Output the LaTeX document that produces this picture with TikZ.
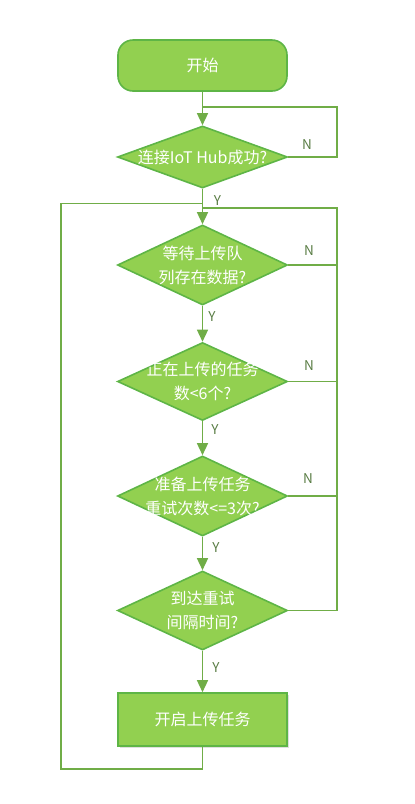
\documentclass[tikz,border=0pt]{standalone}
\usepackage{fontspec}
\setmainfont{Noto Sans CJK SC}
\usetikzlibrary{shapes.geometric,arrows.meta,shadows}
\definecolor{boxfill}{HTML}{92D050}
\definecolor{boxline}{HTML}{5EB546}
\definecolor{conn}{HTML}{70AD47}
\definecolor{lbl}{HTML}{5A7D45}
\begin{document}
\begin{tikzpicture}[x=1pt,y=-1pt,
  boxtext/.style={text=white,font=\fontsize{16}{24}\selectfont,align=center},
  startbox/.style={draw=boxline,line width=1.6pt,fill=boxfill,rounded corners=15pt,minimum width=169pt,minimum height=51pt,inner sep=0pt,boxtext},
  actbox/.style={draw=boxline,line width=1.6pt,fill=boxfill,minimum width=169pt,minimum height=53pt,inner sep=0pt,boxtext,drop shadow={opacity=0.25,shadow xshift=1.5pt,shadow yshift=-1.5pt}},
  decbox/.style={diamond,draw=boxline,line width=1.6pt,fill=boxfill,minimum width=170pt,inner sep=0pt},
  conline/.style={draw=conn,line width=1.4pt},
  arr/.style={conline,-{Triangle[width=11pt,length=12pt]}},
  yn/.style={text=lbl,font=\fontsize{13.5}{15}\selectfont,inner sep=0pt}
]
\useasboundingbox (0,0) rectangle (415,804);
% nodes
\node[startbox] (start) at (202.5,65.5) {开始};
\node[decbox,minimum height=62pt] (d1) at (202.5,157) {};
\node[boxtext] (t1) at (202.5,157) {连接IoT Hub成功?};
\node[decbox,minimum height=80pt] (d2) at (202.5,265) {};
\node[boxtext] (t2) at (202.5,265) {等待上传队\\列存在数据?};
\node[decbox,minimum height=78pt] (d3) at (202.5,381.5) {};
\node[boxtext] (t3) at (202.5,381.5) {正在上传的任务\\数<6个?};
\node[decbox,minimum height=80pt] (d4) at (202.5,496) {};
\node[boxtext] (t4) at (202.5,496) {准备上传任务\\重试次数<=3次?};
\node[decbox,minimum height=79pt] (d5) at (202.5,610.5) {};
\node[boxtext] (t5) at (202.5,610.5) {到达重试\\间隔时间?};
\node[actbox] (act) at (202.5,719.5) {开启上传任务};
% coordinates
\coordinate (j1) at (202.5,107);
\coordinate (r1b) at (337,107);
\coordinate (r1a) at (337,157);
\coordinate (jL) at (202.5,203.5);
\coordinate (jR) at (202.5,208);
\coordinate (rTop) at (337,208);
\coordinate (r2) at (337,265);
\coordinate (r3) at (337,381.5);
\coordinate (r4) at (337,496);
\coordinate (r5) at (337,610.5);
\coordinate (bB) at (202.5,769);
\coordinate (bL) at (61,769);
\coordinate (tL) at (61,203.5);
% connectors
\draw[arr] (start.south) -- (d1.north);
\draw[conline] (d1.east) -- (r1a) -- (r1b) -- (j1);
\draw[arr] (d1.south) -- (d2.north);
\draw[conline] (jR) -- (rTop) -- (r5) -- (d5.east);
\draw[conline] (d2.east) -- (r2);
\draw[conline] (d3.east) -- (r3);
\draw[conline] (d4.east) -- (r4);
\draw[arr] (d2.south) -- (d3.north);
\draw[arr] (d3.south) -- (d4.north);
\draw[arr] (d4.south) -- (d5.north);
\draw[arr] (d5.south) -- (act.north);
\draw[conline] (act.south) -- (bB) -- (bL) -- (tL) -- (jL);
% labels
\node[yn] (n1) at (307,145) {N};
\node[yn] (n2) at (309,251) {N};
\node[yn] (n3) at (309,365.5) {N};
\node[yn] (n4) at (308,479) {N};
\node[yn] (y1) at (217.5,201) {Y};
\node[yn] (y2) at (212,317) {Y};
\node[yn] (y3) at (215,430) {Y};
\node[yn] (y4) at (216,548) {Y};
\node[yn] (y5) at (216,668) {Y};
\end{tikzpicture}
\end{document}
